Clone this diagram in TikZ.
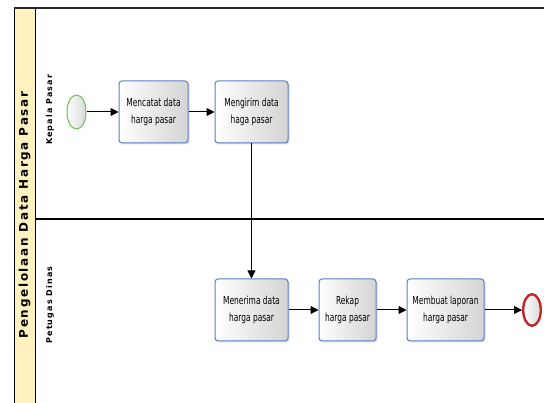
\documentclass[tikz,border=0pt]{standalone}
\usepackage{fontspec}
\setmainfont{DejaVu Sans}
\newfontfamily\taskfont[FakeStretch=0.68]{DejaVu Sans}
\newfontfamily\lanefont[LetterSpace=14]{DejaVu Sans}
\usepackage{tikz}
\usetikzlibrary{arrows.meta,positioning,shapes.geometric,shadows}

\definecolor{poolyellow}{HTML}{FFF2C0}
\definecolor{taskblue}{HTML}{5B7FC7}
\definecolor{startgreen}{HTML}{66C150}
\definecolor{endred}{HTML}{C0272D}

\begin{document}
\begin{tikzpicture}[x=1pt, y=-1pt, >={Triangle[length=8pt,width=8pt]}, auto, node distance=30pt,
    task/.style={draw=taskblue, line width=1pt, rounded corners=3pt, left color=white, right color=black!17,
        minimum width=73pt, minimum height=62pt, align=center, font=\taskfont\fontsize{11}{17.5}\selectfont,
        drop shadow={opacity=0.25, shadow xshift=1.5pt, shadow yshift=-1.5pt}},
    startevent/.style={ellipse, draw=startgreen, line width=1pt, left color=white, right color=black!15,
        minimum width=19pt, minimum height=34pt, inner sep=0pt},
    endevent/.style={ellipse, draw=endred, line width=2.4pt, left color=white, right color=black!15,
        minimum width=17.6pt, minimum height=31.6pt, inner sep=0pt},
    lane/.style={rotate=90, font=\lanefont\bfseries\fontsize{8}{10}\selectfont}]
    \useasboundingbox (0,0) rectangle (544,403);

    % Pool and lanes
    \fill [poolyellow] (14,8) rectangle (35,403);
    \draw [line width=1.8pt, black!85] (14,8) -- (544,8);
    \draw [line width=1pt] (14,8) -- (14,403);
    \draw [line width=1pt] (35,8) -- (35,403);
    \draw [line width=1.3pt] (35,219) -- (544,219);
    \node [rotate=90, font=\lanefont\bfseries\fontsize{12}{14}\selectfont] (pool) at (24.5,215) {Pengelolaan Data Harga Pasar};
    \node [lane] (kepala)  at (50,110) {Kepala Pasar};
    \node [lane] (petugas) at (50,305) {Petugas Dinas};

    % Nodes {start, tasks, finish}
    \node [startevent] 	(start) 	at (76.5,112) 	{};
    \node [task, minimum width=69pt] 	(catat) 	[right=32pt of start] 	{Mencatat data\\harga pasar};
    \node [task] 		(kirim) 	[right=26pt of catat] 	{Mengirim data\\haga pasar};
    \node [task] 		(terima) 	[below=135pt of kirim] 	{Menerima data\\harga pasar};
    \node [task, minimum width=57pt] 	(rekap) 	[right=30pt of terima] 	{Rekap\\harga pasar};
    \node [task, minimum width=77pt] 	(laporan) 	[right=30pt of rekap] 	{Membuat laporan\\harga pasar};
    \node [endevent] 	(finish) 	[right=37.5pt of laporan] {};

    % Paths
    \path [->, line width=1pt] 	(start) 	edge 	(catat);
    \path [->, line width=1pt] 	(catat) 	edge 	(kirim);
    \path [->, line width=1pt] 	(kirim) 	edge 	(terima);
    \path [->, line width=1pt] 	(terima) 	edge 	(rekap);
    \path [->, line width=1pt] 	(rekap) 	edge 	(laporan);
    \path [->, line width=1pt] 	(laporan) 	edge 	(finish);

\end{tikzpicture}
\end{document}
